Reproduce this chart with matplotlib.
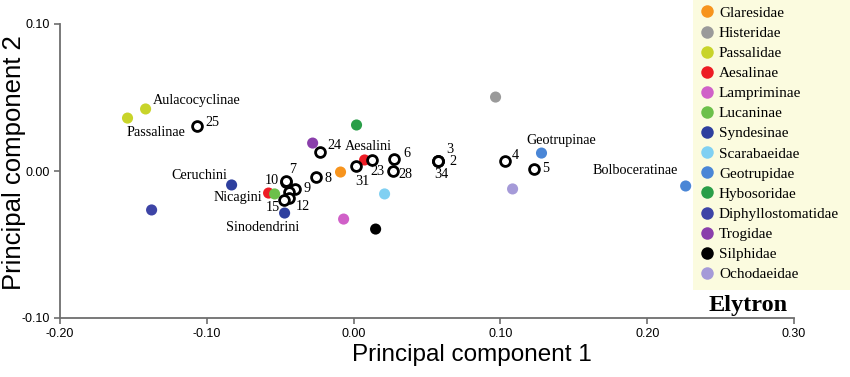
import matplotlib
matplotlib.use("Agg")
import matplotlib.pyplot as plt
from matplotlib.lines import Line2D
from matplotlib.patches import Rectangle

# ---- Data ----
families = ["Glaresidae", "Histeridae", "Passalidae", "Aesalinae", "Lampriminae",
            "Lucaninae", "Syndesinae", "Scarabaeidae", "Geotrupidae", "Hybosoridae",
            "Diphyllostomatidae", "Trogidae", "Silphidae", "Ochodaeidae"]
family_colors = ["#f7941d", "#9a9a9a", "#c8d42a", "#ed1c24", "#d060c8",
                 "#6cc04a", "#2e3f9e", "#80d0f2", "#4a86d6", "#2a9e48",
                 "#3d44a6", "#8a3fab", "#000000", "#a59ad8"]

# filled points: family, PC1, PC2, label
ref_family = ["Passalidae", "Passalidae", "Syndesinae", "Syndesinae", "Diphyllostomatidae",
              "Aesalinae", "Aesalinae", "Lucaninae", "Trogidae", "Hybosoridae",
              "Glaresidae", "Lampriminae", "Scarabaeidae", "Silphidae", "Histeridae",
              "Geotrupidae", "Geotrupidae", "Ochodaeidae"]
ref_pc1 = [-0.154, -0.1417, -0.0831, -0.0470, -0.1376,
           -0.0579, 0.0075, -0.0538, -0.0279, 0.0020,
           -0.0089, -0.0068, 0.0211, 0.0150, 0.0967,
           0.1280, 0.2262, 0.1083]
ref_pc2 = [0.0360, 0.0422, -0.0095, -0.0286, -0.0265,
           -0.0150, 0.0075, -0.0156, 0.0190, 0.0313,
           -0.0007, -0.0327, -0.0156, -0.0395, 0.0503,
           0.0122, -0.0102, -0.0122]
ref_labels = ["Passalinae", "Aulacocyclinae", "Ceruchini", "Sinodendrini", "",
              "Nicagini", "Aesalini", "", "", "",
              "", "", "", "", "",
              "Geotrupinae", "Bolboceratinae", ""]

# open circles: specimens
spec_labels = ["25", "10", "7", "9", "", "12", "15", "8", "24", "31", "23", "6", "28",
               "3", "2", "34", "4", "5"]
spec_pc1 = [-0.1069, -0.0463, -0.0460, -0.0402, -0.0443, -0.0443, -0.0477, -0.0259,
            -0.0232, 0.0014, 0.0123, 0.0272, 0.0266, 0.0572, 0.0572, 0.0572, 0.1029, 0.1226]
spec_pc2 = [0.0306, -0.0075, -0.0068, -0.0122, -0.0143, -0.0184, -0.0197, -0.0041,
            0.0129, 0.0034, 0.0075, 0.0082, 0.0000, 0.0068, 0.0068, 0.0068, 0.0068, 0.0014]

# label offsets in pixels (style only)
ref_offsets = {"Passalinae": (28, -14, "center"), "Aulacocyclinae": (51, 8, "center"),
               "Ceruchini": (-4, 9, "right"), "Sinodendrini": (-22, -14, "center"),
               "Nicagini": (-6, -4, "right"), "Aesalini": (4, 13, "center"),
               "Geotrupinae": (20, 13, "center"), "Bolboceratinae": (-8, 15, "right")}
spec_offsets = {"25": (16, 4, "center"), "10": (-14, 2, "center"), "7": (7, 11, "center"),
                "9": (12, 0, "center"), "12": (14, -8, "center"), "15": (-11, -8, "center"),
                "8": (12, -1, "center"), "24": (15, 7, "center"), "31": (7, -15, "center"),
                "23": (6, -12, "center"), "6": (13, 5, "center"), "28": (13, -3, "center"),
                "3": (12, 12, "center"), "2": (15, 0, "center"), "34": (4, -13, "center"),
                "4": (11, 6, "center"), "5": (12, 0, "center")}

col = dict(zip(families, family_colors))

fig = plt.figure(figsize=(8.5, 3.77), dpi=100)
ax = fig.add_axes([60/850, 59/377, 734/850, 294/377])

serif = ["Liberation Serif", "DejaVu Serif"]
sans = ["Liberation Sans", "DejaVu Sans"]
narrow = ["Liberation Sans Narrow", "Liberation Sans", "DejaVu Sans"]

ax.scatter(ref_pc1, ref_pc2, s=64, c=[col[f] for f in ref_family], edgecolors="none", zorder=3)
ax.scatter(spec_pc1, spec_pc2, s=50, facecolors="white", edgecolors="black",
           linewidths=2.0, zorder=4)

for x, y, lab in zip(ref_pc1, ref_pc2, ref_labels):
    if lab:
        dx, dy, ha = ref_offsets[lab]
        ax.annotate(lab, (x, y), xytext=(dx, dy), textcoords="offset pixels",
                    ha=ha, va="center", fontsize=10.2, family=serif, zorder=5)
for x, y, lab in zip(spec_pc1, spec_pc2, spec_labels):
    if lab:
        dx, dy, ha = spec_offsets[lab]
        ax.annotate(lab, (x, y), xytext=(dx, dy), textcoords="offset pixels",
                    ha=ha, va="center", fontsize=10.2, family=serif, zorder=5)

ax.set_xlim(-0.20, 0.30)
ax.set_ylim(-0.10, 0.10)
ax.set_xticks([-0.20, -0.10, 0.00, 0.10, 0.20, 0.30])
ax.set_yticks([-0.10, 0.00, 0.10])
ax.xaxis.set_major_formatter(matplotlib.ticker.FormatStrFormatter("%.2f"))
ax.yaxis.set_major_formatter(matplotlib.ticker.FormatStrFormatter("%.2f"))
for s in ["top", "right"]:
    ax.spines[s].set_visible(False)
for s in ["left", "bottom"]:
    ax.spines[s].set_color("#6e6e6e")
    ax.spines[s].set_linewidth(1.3)
ax.tick_params(colors="#6e6e6e", length=4, width=1.2, labelcolor="black", labelsize=9)
for t in ax.get_xticklabels() + ax.get_yticklabels():
    t.set_family(narrow)

fig.text(472/850, 1 - 355/377, "Principal component 1", ha="center", va="center",
         fontsize=17.5, family=sans)
fig.text(14/850, 1 - 163/377, "Principal component 2", ha="center", va="center",
         fontsize=18.5, family=sans, rotation=90)

# legend background panel
fig.patches.append(Rectangle((693/850, 1 - 290/377), 157/850, 290/377,
                             transform=fig.transFigure, facecolor="#fbfbdf",
                             edgecolor="none", zorder=1))

handles = [Line2D([], [], marker="o", linestyle="none", markersize=9,
                  markerfacecolor=c, markeredgecolor="none") for c in family_colors]
leg = fig.legend(handles, families, loc="upper left", bbox_to_anchor=(693/850, 1.0),
                 frameon=False, prop={"family": serif, "size": 11},
                 labelspacing=0.42, handlelength=1.0, handletextpad=0.3,
                 borderpad=0.4, borderaxespad=0)
leg.set_zorder(6)

fig.text(748/850, 1 - 305/377, "Elytron", ha="center", va="center", fontsize=17.5,
         fontweight="bold", family=serif, zorder=6)

fig.savefig("out.png", dpi=100)
